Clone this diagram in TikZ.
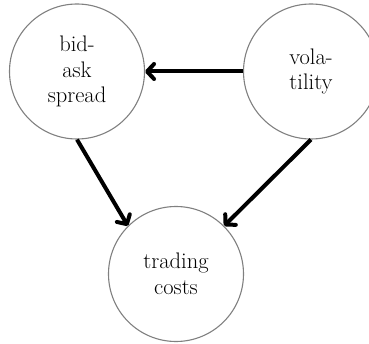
\documentclass[tikz,border=0pt]{standalone}
\usetikzlibrary{arrows.meta}
\begin{document}
\begin{tikzpicture}[x=1pt,y=1pt,
  var/.style={circle, draw=gray, line width=1.1pt, minimum size=135pt, inner sep=0pt,
    align=center, font=\fontsize{22.5}{25.5}\selectfont},
  link/.style={line width=4pt, -{Straight Barb[length=7pt,width=15pt,round]}}]
\useasboundingbox (0,0) rectangle (369,343);
\node[var] (spread) at (77,271.5) {bid-\\ask\\spread};
\node[var] (vol) at (311,271.5) {vola-\\tility};
\node[var] (cost) at (176,69) {trading\\costs};
\draw[link] (vol.west) -- (spread.east);
\draw[link] (spread.south) -- (cost.north west);
\draw[link] (vol.south) -- (cost.north east);
\end{tikzpicture}
\end{document}
